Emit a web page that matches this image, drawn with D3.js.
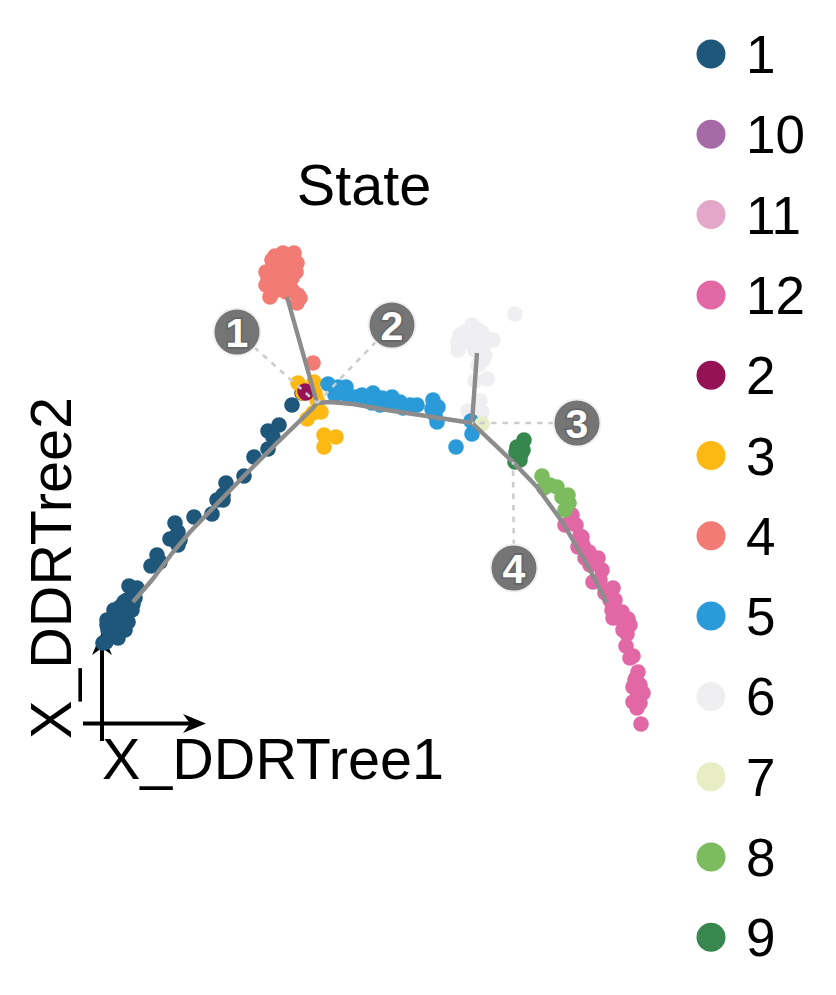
<!DOCTYPE html>
<html>
<head>
<meta charset="utf-8">
<script src="https://cdn.jsdelivr.net/npm/d3@7"></script>
<style>
  html, body { margin: 0; padding: 0; background: #fff; }
  text { font-family: "Liberation Sans", Arial, sans-serif; }
</style>
</head>
<body>
<div id="chart"></div>
<script>
const legendStates = ["1", "10", "11", "12", "2", "3", "4", "5", "6", "7", "8", "9"]
const legendColors = ["#1f577b", "#a66ba6", "#e3a8c9", "#e268a5", "#961256", "#fdb913", "#f27b74", "#2a9ad8", "#efeef1", "#e8edc4", "#7dbb5f", "#37874f"]

// cells per state
const state1 = [[3,107],[6,108],[7,130],[7,125],[8,120],[12,128],[13,125],[14,140],[18,123],[18,115],[18,112],[20,143],[23,133],[25,120],[15,137],[27,140],[30,140],[33,146],[13,117],[22,123],[28,128],[10,113],[30,148],[27,150],[24,148],[32,140],[29,164],[37,162],[35,152],[51,184],[57,195],[60,188],[70,211],[78,205],[75,227],[78,218],[80,210],[94,233],[112,236],[117,250],[123,255],[126,267],[123,250],[144,274],[154,293],[168,301],[168,319],[179,325],[173,313],[192,345],[202,357]]
const state2 = [[205,359],[206,357]]
const state3 = [[198,367],[214,368],[203,357],[215,357],[221,338],[207,331],[213,337],[224,315],[236,313],[224,303],[217,350]]
const state4 = [[175,494],[183,497],[194,497],[197,487],[188,490],[172,490],[180,488],[185,478],[166,478],[178,480],[190,480],[196,478],[192,472],[182,472],[168,470],[166,465],[170,453],[173,458],[176,460],[186,458],[180,463],[173,470],[188,467],[198,455],[200,452],[197,447],[192,460],[213,387]]
const state5 = [[228,366],[246,363],[247,355],[235,355],[238,363],[255,353],[262,355],[265,350],[273,357],[272,347],[280,345],[282,352],[290,347],[292,353],[300,348],[310,345],[317,345],[303,342],[338,343],[332,341],[335,335],[333,350],[337,328],[371,329],[372,316],[356,303]]
const state6 = [[415,436],[365,418],[358,408],[358,400],[366,410],[375,410],[385,410],[393,410],[373,417],[382,417],[372,425],[378,420],[360,415],[388,410],[370,407],[380,405],[375,400],[383,402],[385,395],[383,390],[378,385],[387,371],[375,369],[380,349],[368,339],[382,338]]
const state7 = [[382,326]]
const state8 = [[442,274],[444,262],[450,265],[457,263],[462,253],[468,255],[469,247],[465,240]]
const state9 = [[424,310],[417,303],[423,300],[421,296],[416,298],[420,290],[415,288],[418,295]]
const state12 = [[472,235],[465,225],[476,225],[480,214],[478,203],[483,205],[489,198],[485,192],[490,185],[495,190],[498,192],[500,170],[502,180],[482,213],[493,168],[513,162],[505,157],[512,140],[510,150],[515,150],[522,138],[513,132],[518,132],[528,131],[530,125],[523,120],[527,116],[526,104],[533,94],[530,92],[538,78],[536,72],[535,70],[540,65],[533,63],[543,57],[537,52],[533,48],[540,47],[537,42],[541,26]]

// drawing order follows the legend's sort order
const cellGroups = [
  ["1", state1], ["12", state12], ["3", state3], ["2", state2], ["4", state4],
  ["6", state6], ["5", state5], ["7", state7], ["8", state8], ["9", state9]
]

// principal tree
const trunk = [[33,148],[52,170],[73,198],[90,218],[113,242],[143,273],[177,307],[213,342],[217,347]]
const branchUp = [[187,453],[217,347]]
const branchMid = [[217,347],[230,348],[253,346],[287,340],[320,335],[372,327]]
const branchTop = [[377,397],[372,327]]
const branchDown = [[372,327],[413,288],[437,263],[463,227],[490,180],[507,147]]
const treePaths = [trunk, branchUp, branchMid, branchTop, branchDown]

// numbered branch points: [label, callout x, callout y, node x, node y]
const branchPoints = [
  ["1", 137, 418, 217, 347],
  ["2", 292, 425, 217, 347],
  ["3", 477, 327, 372, 327],
  ["4", 414, 182, 413, 288]
]

const color = d3.scaleOrdinal().domain(legendStates).range(legendColors)
const x = d3.scaleLinear().domain([0, 600]).range([100, 700])
const y = d3.scaleLinear().domain([0, 600]).range([750, 150])

const svg = d3.select("#chart").append("svg")
  .attr("width", 836).attr("height", 995)
  .style("display", "block")

// axis arrows sit under the cells
const arrows = svg.append("g")
arrows.append("line").attr("x1", 83).attr("x2", 195).attr("y1", 723.5).attr("y2", 723.5)
  .attr("stroke", "#000").attr("stroke-width", 4)
arrows.append("path").attr("d", "M206,723.5L183,714L190,723.5L183,733Z").attr("fill", "#000")
arrows.append("line").attr("x1", 102).attr("x2", 102).attr("y1", 741).attr("y2", 645)
  .attr("stroke", "#000").attr("stroke-width", 4)
arrows.append("path").attr("d", "M102,632L92,655L102,648L112,655Z").attr("fill", "#000")

svg.append("g").selectAll("g")
  .data(cellGroups)
  .join("g")
  .attr("fill", d => color(d[0]))
  .selectAll("circle")
  .data(d => d[1])
  .join("circle")
  .attr("cx", d => x(d[0]))
  .attr("cy", d => y(d[1]))
  .attr("r", 7.8)

const line = d3.line().x(d => x(d[0])).y(d => y(d[1]))

svg.append("g").selectAll("path")
  .data(treePaths)
  .join("path")
  .attr("d", line)
  .attr("fill", "none")
  .attr("stroke", "#8c8c8c")
  .attr("stroke-width", 4.4)

const callouts = svg.append("g").selectAll("g")
  .data(branchPoints)
  .join("g")

callouts.append("line")
  .attr("x1", d => x(d[1])).attr("y1", d => y(d[2]))
  .attr("x2", d => x(d[3])).attr("y2", d => y(d[4]))
  .attr("stroke", "#cccccc")
  .attr("stroke-width", 2.6)
  .attr("stroke-dasharray", "5.5,6")

callouts.append("circle")
  .attr("cx", d => x(d[1])).attr("cy", d => y(d[2]))
  .attr("r", 23.5)
  .attr("fill", "#757575")
  .attr("stroke", "#f0f0f0")
  .attr("stroke-width", 2)

callouts.append("text")
  .attr("x", d => x(d[1])).attr("y", d => y(d[2]))
  .attr("dy", "0.36em")
  .attr("text-anchor", "middle")
  .attr("font-size", 41)
  .attr("font-weight", "bold")
  .attr("fill", "#fff")
  .attr("stroke", "#666666")
  .attr("stroke-width", 3.5)
  .attr("paint-order", "stroke")
  .text(d => d[0])

svg.append("text").attr("x", 364).attr("y", 205)
  .attr("text-anchor", "middle").attr("font-size", 57.5).text("State")

svg.append("text").attr("x", 102).attr("y", 779)
  .attr("font-size", 57.5).text("X_DDRTree1")

svg.append("text")
  .attr("transform", "translate(71,739) rotate(-90)")
  .attr("font-size", 57.5).text("X_DDRTree2")

const legend = svg.append("g").selectAll("g")
  .data(legendStates)
  .join("g")
  .attr("transform", (d, i) => `translate(711,${54 + i * 80.3})`)

legend.append("circle").attr("r", 14.5).attr("fill", d => color(d))
legend.append("text").attr("x", 35).attr("dy", "0.36em")
  .attr("font-size", 53).text(d => d)
</script>
</body>
</html>
